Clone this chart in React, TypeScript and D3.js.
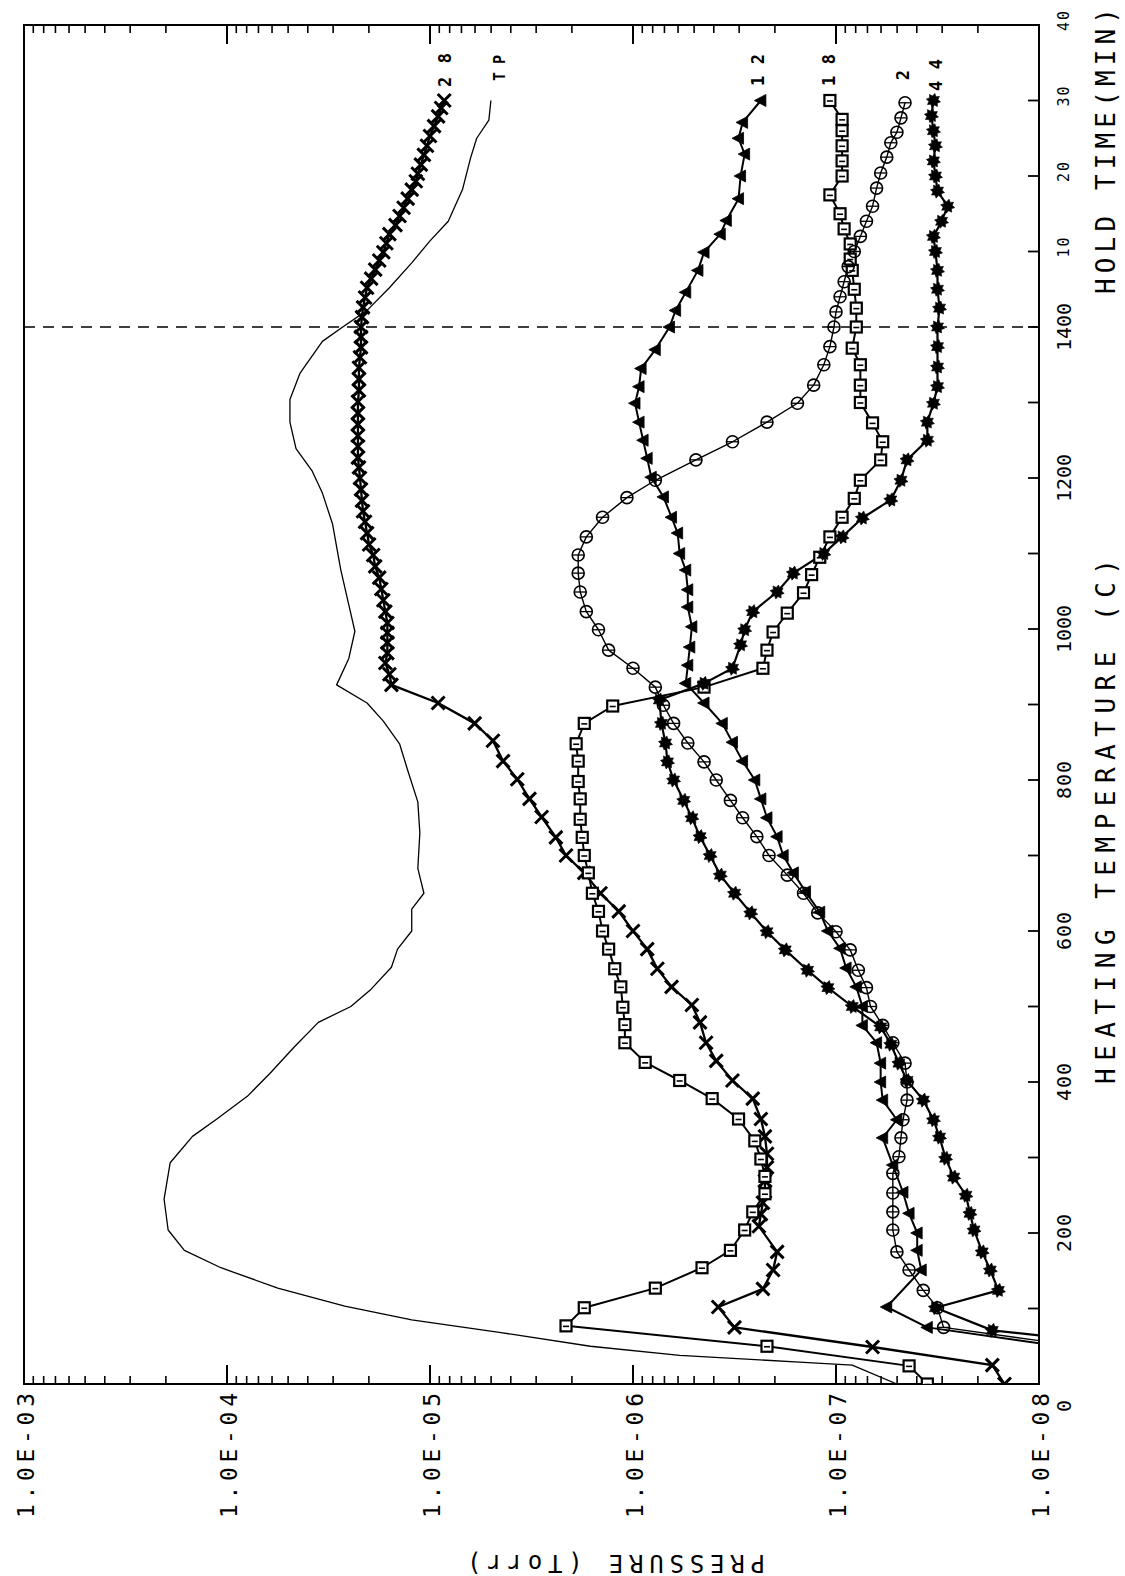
import React from "react";
import * as d3 from "d3";

// ---------- data: [heating temperature °C, log10 pressure (Torr)] and [hold min, log10 pressure] ----------
const HEAT_28: [number, number][] = [
  [0, -7.83], [25, -7.77], [49, -7.18], [75, -6.5], [102, -6.42], [126, -6.64], [151, -6.69], [175, -6.71],
  [209, -6.62], [225, -6.63], [240, -6.64], [255, -6.65], [269, -6.65], [287, -6.66], [305, -6.66], [328, -6.65],
  [351, -6.63], [378, -6.59], [402, -6.49], [428, -6.41], [452, -6.36], [479, -6.33], [502, -6.29], [526, -6.19],
  [550, -6.12], [576, -6.07], [600, -6.0], [626, -5.93], [650, -5.84], [677, -5.76], [700, -5.67], [724, -5.62],
  [751, -5.55], [775, -5.49], [801, -5.43], [825, -5.36], [852, -5.31], [875, -5.22], [902, -5.04], [926, -4.81],
  [940, -4.8], [955, -4.78], [968, -4.79], [982, -4.79], [995, -4.79], [1008, -4.79], [1023, -4.78], [1038, -4.77],
  [1053, -4.76], [1068, -4.75], [1083, -4.73], [1098, -4.72], [1112, -4.7], [1127, -4.69], [1142, -4.68],
  [1156, -4.67], [1170, -4.665], [1185, -4.66], [1200, -4.655], [1214, -4.65], [1227, -4.645], [1242, -4.645],
  [1256, -4.645], [1271, -4.645], [1286, -4.645], [1301, -4.645], [1316, -4.65], [1331, -4.65], [1346, -4.65],
  [1360, -4.655], [1373, -4.66], [1387, -4.66], [1400, -4.66],
];
const HOLD_28: [number, number][] = [
  [1.3, -4.665], [2.6, -4.67], [3.9, -4.68], [5.2, -4.69], [6.4, -4.71], [7.6, -4.73], [8.8, -4.75], [9.9, -4.77],
  [11.1, -4.785], [12.3, -4.8], [13.5, -4.83], [14.7, -4.85], [15.8, -4.87], [17, -4.89], [18.2, -4.91],
  [19.3, -4.93], [20.3, -4.94], [21.5, -4.955], [22.8, -4.97], [24, -4.985], [25.3, -5.0], [26.6, -5.02],
  [27.9, -5.04], [29, -5.055], [30, -5.07],
];

const HEAT_TP: [number, number][] = [
  [0, -7.3], [25, -7.08], [29, -6.82], [38, -6.23], [50, -5.79], [68, -5.35], [85, -4.91], [103, -4.58],
  [127, -4.25], [154, -3.97], [177, -3.79], [204, -3.71], [245, -3.69], [293, -3.72], [328, -3.83], [351, -3.95],
  [381, -4.1], [411, -4.21], [446, -4.33], [479, -4.45], [500, -4.61], [523, -4.71], [552, -4.81], [576, -4.84],
  [600, -4.91], [629, -4.91], [650, -4.97], [683, -4.94], [730, -4.95], [771, -4.94], [813, -4.89], [848, -4.85],
  [878, -4.77], [902, -4.69], [926, -4.54], [961, -4.6], [997, -4.63], [1032, -4.6], [1079, -4.56],
  [1139, -4.52], [1180, -4.47], [1209, -4.42], [1239, -4.34], [1274, -4.31], [1304, -4.31], [1339, -4.36],
  [1381, -4.47], [1400, -4.57],
];
const HOLD_TP: [number, number][] = [
  [2.2, -4.69], [5.2, -4.8], [8.5, -4.91], [11.4, -5.0], [14, -5.09], [18.2, -5.16], [22.4, -5.2], [25, -5.23],
  [27.4, -5.29], [30, -5.3],
];

const HEAT_12: [number, number][] = [
  [50, -8.1], [75, -7.45], [102, -7.25], [151, -7.42], [177, -7.4], [200, -7.4], [226, -7.36], [254, -7.33],
  [290, -7.28], [326, -7.23], [350, -7.3], [376, -7.23], [400, -7.22], [425, -7.22], [452, -7.2], [475, -7.13],
  [500, -7.13], [526, -7.1], [551, -7.05], [577, -7.02], [600, -6.96], [625, -6.92], [652, -6.85], [677, -6.79],
  [700, -6.74], [725, -6.71], [750, -6.66], [775, -6.63], [800, -6.6], [825, -6.54], [850, -6.49], [875, -6.44],
  [902, -6.35], [928, -6.26], [952, -6.27], [976, -6.28], [1003, -6.29], [1029, -6.27], [1052, -6.27],
  [1078, -6.26], [1100, -6.23], [1127, -6.22], [1148, -6.19], [1175, -6.15], [1201, -6.09], [1226, -6.07],
  [1250, -6.05], [1274, -6.03], [1299, -6.01], [1321, -6.03], [1345, -6.04], [1370, -6.11], [1400, -6.18],
];
const HOLD_12: [number, number][] = [
  [2.2, -6.21], [4.6, -6.26], [7.5, -6.32], [9.9, -6.35], [12.3, -6.43], [14.1, -6.46], [17, -6.52], [20, -6.53],
  [22.9, -6.55], [25, -6.52], [27.1, -6.54], [30, -6.63],
];

const HEAT_18: [number, number][] = [
  [0, -7.45], [24, -7.36], [50, -6.66], [77, -5.67], [101, -5.76], [127, -6.11], [154, -6.34], [177, -6.48],
  [204, -6.55], [228, -6.59], [252, -6.65], [275, -6.65], [298, -6.63], [322, -6.6], [351, -6.52], [378, -6.39],
  [402, -6.23], [426, -6.06], [452, -5.96], [476, -5.96], [499, -5.95], [526, -5.94], [550, -5.91], [576, -5.88],
  [600, -5.85], [626, -5.83], [650, -5.8], [677, -5.78], [700, -5.76], [724, -5.75], [748, -5.74], [775, -5.74],
  [798, -5.73], [825, -5.73], [848, -5.72], [875, -5.76], [898, -5.9], [923, -6.35], [948, -6.64], [972, -6.66],
  [996, -6.69], [1021, -6.76], [1048, -6.84], [1072, -6.88], [1095, -6.92], [1122, -6.97], [1148, -7.03],
  [1173, -7.09], [1197, -7.12], [1224, -7.22], [1248, -7.23], [1273, -7.18], [1300, -7.12], [1323, -7.12],
  [1350, -7.12], [1372, -7.08],
];
const HOLD_18: [number, number][] = [
  [0, -7.1], [2.5, -7.1], [5, -7.09], [7.5, -7.08], [9, -7.07], [11, -7.07], [13, -7.04], [15, -7.02],
  [17.5, -6.97], [20, -7.03], [22, -7.03], [24, -7.03], [26, -7.03], [27.5, -7.03], [30, -6.97],
];

const HEAT_2: [number, number][] = [
  [50, -8.2], [75, -7.53], [101, -7.5], [124, -7.43], [151, -7.36], [175, -7.3], [204, -7.28], [228, -7.28],
  [253, -7.28], [279, -7.28], [301, -7.31], [326, -7.32], [350, -7.33], [376, -7.35], [400, -7.35], [425, -7.34],
  [452, -7.28], [475, -7.23], [500, -7.17], [525, -7.15], [548, -7.11], [575, -7.07], [599, -7.0], [624, -6.91],
  [650, -6.84], [674, -6.76], [700, -6.67], [725, -6.61], [750, -6.54], [773, -6.48], [800, -6.41], [824, -6.35],
  [849, -6.27], [875, -6.2], [899, -6.15], [923, -6.11], [948, -6.0], [972, -5.88], [999, -5.83], [1023, -5.77],
  [1049, -5.74], [1074, -5.73], [1098, -5.73], [1122, -5.77], [1148, -5.85], [1174, -5.97], [1197, -6.11],
  [1224, -6.31], [1248, -6.49], [1274, -6.66], [1299, -6.81], [1323, -6.89], [1350, -6.94], [1374, -6.97],
];
const HOLD_2: [number, number][] = [
  [0, -6.99], [2, -7.0], [4, -7.02], [6, -7.04], [8, -7.06], [10, -7.09], [12, -7.12], [14, -7.15], [16, -7.18],
  [18.4, -7.2], [20.4, -7.22], [22.5, -7.25], [24.4, -7.27], [25.8, -7.3], [27.7, -7.32], [29.7, -7.34],
];

const HEAT_44: [number, number][] = [
  [50, -8.5], [71, -7.77], [101, -7.49], [124, -7.8], [151, -7.76], [175, -7.72], [204, -7.68], [226, -7.66],
  [250, -7.64], [274, -7.58], [299, -7.54], [327, -7.51], [350, -7.48], [376, -7.43], [402, -7.35], [425, -7.31],
  [450, -7.27], [473, -7.22], [500, -7.08], [525, -6.96], [548, -6.86], [575, -6.75], [599, -6.66], [624, -6.58],
  [650, -6.5], [674, -6.43], [700, -6.38], [725, -6.33], [750, -6.29], [773, -6.25], [800, -6.2], [824, -6.17],
  [849, -6.16], [875, -6.14], [906, -6.13], [928, -6.35], [948, -6.49], [979, -6.53], [999, -6.55], [1023, -6.59],
  [1049, -6.71], [1074, -6.79], [1100, -6.94], [1122, -7.03], [1147, -7.13], [1171, -7.27], [1197, -7.32],
  [1224, -7.35], [1250, -7.45], [1274, -7.45], [1299, -7.48], [1321, -7.5], [1347, -7.5], [1374, -7.5],
];
const HOLD_44: [number, number][] = [
  [0, -7.5], [2.5, -7.51], [5, -7.5], [7.5, -7.5], [10, -7.49], [12, -7.48], [14, -7.52], [16, -7.55], [18, -7.5],
  [20, -7.49], [22, -7.48], [24, -7.49], [26, -7.48], [28, -7.47], [30, -7.48],
];

// ---------- axes ----------
const PRESSURE_TICKS = [1e-3, 1e-4, 1e-5, 1e-6, 1e-7, 1e-8];
const PRESSURE_LABELS = ["1.0E-03", "1.0E-04", "1.0E-05", "1.0E-06", "1.0E-07", "1.0E-08"];
const TEMP_TICKS = [0, 100, 200, 300, 400, 500, 600, 700, 800, 900, 1000, 1100, 1200, 1300, 1400];
const TEMP_LABELS = [0, 200, 400, 600, 800, 1000, 1200, 1400];
const HOLD_TICKS = [10, 20, 30];
const HOLD_LABELS = [10, 20, 30, 40];

const FONT = "'DejaVu Sans Mono', 'Liberation Mono', monospace";

const L = 24, R = 1039, T = 25, B = 1384;

export default function App() {
  const x = d3.scaleLog().domain([1e-3, 1e-8]).range([L, R]);
  // heating temperature 0..1400 °C, then hold time (1400 + minutes) up to 40 min
  const y = d3.scaleLinear().domain([0, 1400, 1440]).range([B, 327, T]);

  const toPts = (heat: [number, number][], hold: [number, number][]) => [
    ...heat.map(([t, lp]) => ({ u: t, p: Math.pow(10, lp) })),
    ...hold.map(([m, lp]) => ({ u: 1400 + m, p: Math.pow(10, lp) })),
  ];

  const series = [
    { name: "28", pts: toPts(HEAT_28, HOLD_28), marker: "x", width: 2.3 },
    { name: "TP", pts: toPts(HEAT_TP, HOLD_TP), marker: "none", width: 1.3 },
    { name: "12", pts: toPts(HEAT_12, HOLD_12), marker: "tri", width: 2.0 },
    { name: "18", pts: toPts(HEAT_18, HOLD_18), marker: "sq", width: 2.0 },
    { name: "2", pts: toPts(HEAT_2, HOLD_2), marker: "circ", width: 1.4 },
    { name: "44", pts: toPts(HEAT_44, HOLD_44), marker: "star", width: 2.2 },
  ];

  const line = d3
    .line<{ u: number; p: number }>()
    .x((d) => x(d.p))
    .y((d) => y(d.u));

  const starPath = (() => {
    const pts: string[] = [];
    for (let i = 0; i < 16; i++) {
      const r = i % 2 === 0 ? 7.2 : 4.6;
      const a = (Math.PI / 8) * i + Math.PI / 16;
      pts.push(`${(r * Math.cos(a)).toFixed(2)},${(r * Math.sin(a)).toFixed(2)}`);
    }
    return "M" + pts.join("L") + "Z";
  })();

  const drawMarker = (kind: string, cx: number, cy: number, key: string) => {
    const tr = `translate(${cx},${cy})`;
    switch (kind) {
      case "x":
        return (
          <path key={key} transform={tr} d="M-6.5,-6.5L6.5,6.5M-6.5,6.5L6.5,-6.5" stroke="#000" strokeWidth={3} fill="none" />
        );
      case "tri":
        return <path key={key} transform={tr} d="M-6.5,0L5,-6L5,6Z" fill="#000" stroke="#000" strokeWidth={0.8} />;
      case "sq":
        return (
          <g key={key} transform={tr}>
            <rect x={-5.5} y={-5.5} width={11} height={11} fill="#fff" stroke="#000" strokeWidth={2.2} />
            <path d="M-3,0.5L3,0.5" stroke="#000" strokeWidth={1.6} />
          </g>
        );
      case "circ":
        return (
          <g key={key} transform={tr}>
            <circle r={6} fill="none" stroke="#000" strokeWidth={1.6} />
            <path d="M-6,0L6,0" stroke="#000" strokeWidth={1.3} />
          </g>
        );
      case "star":
        return <path key={key} transform={tr} d={starPath} fill="#000" stroke="#000" strokeWidth={0.6} />;
      default:
        return null;
    }
  };

  // log minor ticks
  const minorTicks: number[] = [];
  for (let dec = -8; dec < -3; dec++) {
    for (let m = 2; m <= 9; m++) minorTicks.push(m * Math.pow(10, dec));
  }

  const labelPos = [
    { name: "28", x: 445, y: 70, len: 34 },
    { name: "TP", x: 500, y: 68, len: 26 },
    { name: "12", x: 758, y: 70, len: 32 },
    { name: "18", x: 829, y: 70, len: 32 },
    { name: "2", x: 903, y: 75, len: 0 },
    { name: "44", x: 936, y: 75, len: 32 },
  ];

  return (
    <svg
      width={1125}
      height={1576}
      viewBox="0 0 1125 1576"
      style={{ position: "absolute", left: 0, top: 0, background: "#fff" }}
    >
      <rect x={0} y={0} width={1125} height={1576} fill="#fff" />
      <defs>
        <clipPath id="plot">
          <rect x={L} y={T} width={R - L} height={B - T} />
        </clipPath>
      </defs>

      {/* frame */}
      <rect x={L} y={T} width={R - L} height={B - T} fill="none" stroke="#000" strokeWidth={2} />

      {/* pressure ticks bottom & top */}
      {PRESSURE_TICKS.map((p) => (
        <g key={"pt" + p}>
          <line x1={x(p)} x2={x(p)} y1={B} y2={B - 19} stroke="#000" strokeWidth={2} />
          <line x1={x(p)} x2={x(p)} y1={T} y2={T + 19} stroke="#000" strokeWidth={2} />
        </g>
      ))}
      {minorTicks.map((p) => (
        <g key={"mt" + p}>
          <line x1={x(p)} x2={x(p)} y1={B} y2={B - 8} stroke="#000" strokeWidth={1.6} />
          <line x1={x(p)} x2={x(p)} y1={T} y2={T + 8} stroke="#000" strokeWidth={1.6} />
        </g>
      ))}

      {/* temperature / hold ticks on right */}
      {TEMP_TICKS.map((t) => (
        <line key={"tt" + t} x1={R} x2={R - 11} y1={y(t)} y2={y(t)} stroke="#000" strokeWidth={1.8} />
      ))}
      {HOLD_TICKS.map((m) => (
        <line key={"ht" + m} x1={R} x2={R - 11} y1={y(1400 + m)} y2={y(1400 + m)} stroke="#000" strokeWidth={1.8} />
      ))}

      {/* dashed line at 1400 C */}
      <line x1={L} x2={R} y1={y(1400)} y2={y(1400)} stroke="#000" strokeWidth={1.6} strokeDasharray="11 8" />

      {/* series */}
      <g clipPath="url(#plot)">
        {series.map((s) => (
          <path
            key={"l" + s.name}
            d={line(s.pts) || ""}
            fill="none"
            stroke="#000"
            strokeWidth={s.width}
            strokeLinejoin="round"
          />
        ))}
        {series.map((s) =>
          s.pts.map((d, i) => drawMarker(s.marker, x(d.p), y(d.u), s.name + "-" + i))
        )}
      </g>

      {/* series labels */}
      {labelPos.map((lp) => (
        <text
          key={"sl" + lp.name}
          transform={`translate(${lp.x},${lp.y}) rotate(-90)`}
          textAnchor="middle"
          dominantBaseline="central"
          fontFamily={FONT}
          fontWeight="bold"
          fontSize={lp.name === "TP" ? 15 : 17}
          {...(lp.len ? { textLength: lp.len, lengthAdjust: "spacing" } : {})}
        >
          {lp.name}
        </text>
      ))}

      {/* pressure tick labels */}
      {PRESSURE_TICKS.map((p, i) => (
        <text
          key={"pl" + p}
          transform={`translate(${x(p) + 2},${1393}) rotate(-90)`}
          textAnchor="end"
          dominantBaseline="central"
          fontFamily={FONT}
          fontSize={23}
          textLength={125}
          lengthAdjust="spacing"
        >
          {PRESSURE_LABELS[i]}
        </text>
      ))}

      {/* pressure axis title (upside down) */}
      <text
        transform={`translate(616,1563) rotate(180)`}
        textAnchor="middle"
        dominantBaseline="central"
        fontFamily={FONT}
        fontSize={24}
        textLength={298}
        lengthAdjust="spacing"
      >
        PRESSURE (Torr)
      </text>

      {/* temperature labels */}
      {TEMP_LABELS.map((t) => (
        <text
          key={"tl" + t}
          transform={`translate(${1064},${t === 0 ? 1406 : y(t)}) rotate(-90)`}
          textAnchor="middle"
          dominantBaseline="central"
          fontFamily={FONT}
          fontSize={20}
          {...(t === 0 ? {} : { textLength: t >= 1000 ? 48 : 38, lengthAdjust: "spacing" })}
        >
          {t}
        </text>
      ))}
      {/* hold time labels */}
      {HOLD_LABELS.map((m) => (
        <text
          key={"hl" + m}
          transform={`translate(${1064},${y(1400 + m) - 4}) rotate(-90)`}
          textAnchor="middle"
          dominantBaseline="central"
          fontFamily={FONT}
          fontSize={15}
          textLength={20}
          lengthAdjust="spacing"
        >
          {m}
        </text>
      ))}

      {/* right axis titles */}
      <text
        transform={`translate(1106,${(1084 + 559) / 2}) rotate(-90)`}
        textAnchor="middle"
        dominantBaseline="central"
        fontFamily={FONT}
        fontSize={26}
        textLength={525}
        lengthAdjust="spacing"
      >
        HEATING TEMPERATURE (C)
      </text>
      <text
        transform={`translate(1106,${(294 + 8) / 2}) rotate(-90)`}
        textAnchor="middle"
        dominantBaseline="central"
        fontFamily={FONT}
        fontSize={26}
        textLength={286}
        lengthAdjust="spacing"
      >
        HOLD TIME(MIN)
      </text>
    </svg>
  );
}
